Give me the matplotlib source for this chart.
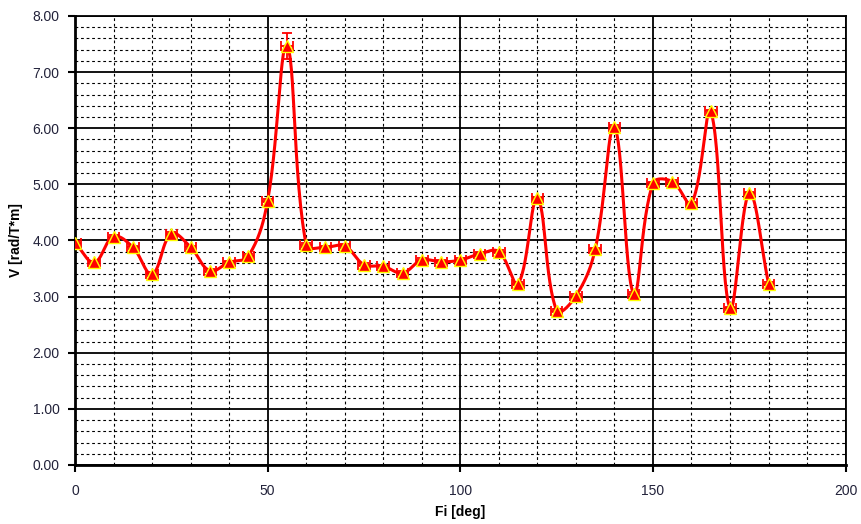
import numpy as np
import matplotlib
matplotlib.use("Agg")
import matplotlib.pyplot as plt
from matplotlib.ticker import MultipleLocator, FormatStrFormatter

# measured data
fi = [0, 5, 10, 15, 20, 25, 30, 35, 40, 45, 50, 55, 60, 65, 70, 75, 80, 85, 90,
      95, 100, 105, 110, 115, 120, 125, 130, 135, 140, 145, 150, 155, 160, 165,
      170, 175, 180]
v = [3.96, 3.61, 4.07, 3.88, 3.40, 4.12, 3.88, 3.46, 3.61, 3.72, 4.71, 7.47,
     3.92, 3.88, 3.90, 3.57, 3.54, 3.42, 3.65, 3.62, 3.65, 3.76, 3.80, 3.23,
     4.75, 2.75, 3.01, 3.84, 6.02, 3.05, 5.02, 5.05, 4.66, 6.30, 2.79, 4.84,
     3.23]
v_err = [0.03] * len(fi)
v_err[11] = 0.23
fi_err = [1.5] * len(fi)

plt.rcParams['font.family'] = ['Liberation Sans', 'DejaVu Sans']


def smooth(ax, x, y, n=30):
    # excel-like smoothed line, computed in screen space
    tr = ax.transData
    pts = tr.transform(np.column_stack([x, y]))
    p = np.vstack([pts[0], pts, pts[-1]])
    t = np.linspace(0, 1, n)[:, None]
    out = []
    for i in range(1, len(p) - 2):
        a, b = p[i], p[i + 1]
        d0 = np.hypot(*(p[i] - p[i - 1]))
        d1 = np.hypot(*(b - a))
        d2 = np.hypot(*(p[i + 2] - b))
        c1 = a + (b - p[i - 1]) * 0.38 * d1 / max(d0 + d1, 1e-9)
        c2 = b - (p[i + 2] - a) * 0.38 * d1 / max(d1 + d2, 1e-9)
        seg = (1 - t) ** 3 * a + 3 * (1 - t) ** 2 * t * c1 \
            + 3 * (1 - t) * t ** 2 * c2 + t ** 3 * b
        out.append(seg)
    out = tr.inverted().transform(np.vstack(out))
    return out[:, 0], out[:, 1]


fig = plt.figure(figsize=(8.62, 5.24), dpi=100)
ax = fig.add_axes([0.087, 0.1126, 0.894, 0.857])

ax.set_xlim(0, 200)
ax.set_ylim(0, 8)
ax.xaxis.set_major_locator(MultipleLocator(50))
ax.xaxis.set_minor_locator(MultipleLocator(10))
ax.yaxis.set_major_locator(MultipleLocator(1))
ax.yaxis.set_minor_locator(MultipleLocator(0.2))
ax.yaxis.set_major_formatter(FormatStrFormatter('%.2f'))

ax.grid(which="major", color="black", linewidth=1.3, linestyle="-")
ax.grid(which="minor", color="black", linewidth=0.8, linestyle=(0, (2.5, 2.5)))
ax.set_axisbelow(True)

for s in ax.spines.values():
    s.set_color("black")
    s.set_linewidth(1.3)
ax.spines['left'].set_linewidth(2)
ax.spines['bottom'].set_linewidth(2)

ax.tick_params(which="major", direction="out", length=5, width=1.5,
               labelsize=10, labelcolor="#22223a", pad=6)
ax.tick_params(which="minor", length=0)
ax.tick_params(axis="x", pad=9)

sx, sy = smooth(ax, fi, v)
ax.plot(sx, sy, color="#ff0000", linewidth=2.2, zorder=3)
ax.errorbar(fi, v, xerr=fi_err, yerr=v_err, fmt="none", ecolor="#ff0000",
            elinewidth=1.3, capsize=3.5, capthick=1.3, zorder=4)
ax.plot(fi, v, linestyle="none", marker="^", markersize=8.5,
        markerfacecolor="#ff0000", markeredgecolor="#ffff00",
        markeredgewidth=1, zorder=5)

ax.set_xlabel("Fi [deg]", fontsize=10, fontweight="bold", labelpad=5)
ax.set_ylabel("V [rad/T*m]", fontsize=10, fontweight="bold", labelpad=7)

fig.savefig("out.png", dpi=100)
plt.close(fig)
